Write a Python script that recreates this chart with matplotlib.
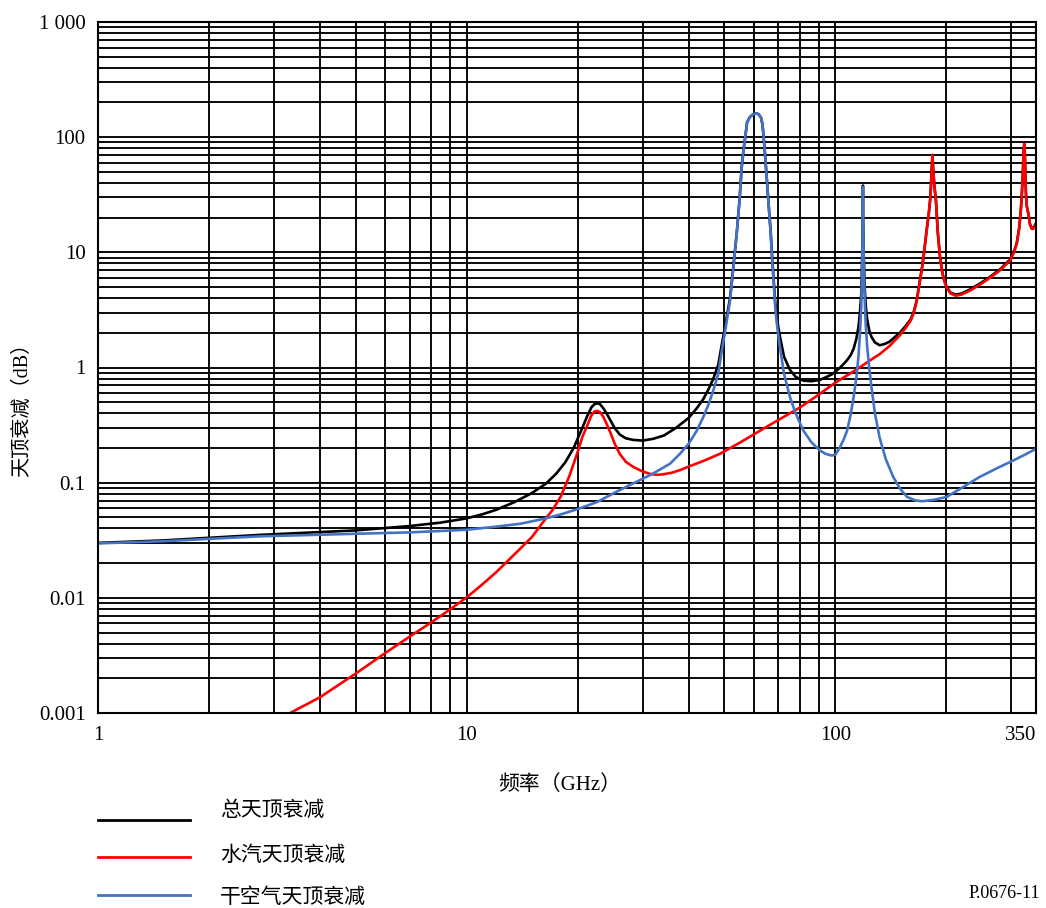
import matplotlib
matplotlib.use("Agg")
import matplotlib.pyplot as plt
from matplotlib.ticker import FixedLocator, NullLocator, FixedFormatter

# Zenith attenuation (dB) versus frequency (GHz)

# Dry-air zenith attenuation
dry_freq = [1, 1.5, 2, 2.75, 4, 5, 7, 10, 12, 14, 16.4, 18, 20, 22.6, 25.4, 28, 30,
            32, 35.6, 38, 40, 42, 43.8, 45.3, 46.65, 48.13, 49.0, 50.0, 50.9, 51.78,
            52.8, 54.0, 54.95, 55.7, 56.4, 57.1, 57.6, 58.67, 59.8, 60.9, 61.9,
            62.84, 63.4, 63.76, 64.3, 64.8, 65.3, 65.77, 66.77, 67.4, 67.95, 68.6,
            69.21, 70.0, 70.74, 72.55, 75.33, 78, 81.83, 86, 90.83, 94, 97.7, 100,
            103, 105.5, 107.6, 110, 112, 114, 115.5, 116.5, 117.5, 118.2, 118.5,
            118.75, 119.0, 119.4, 120.2, 121, 122, 123.5, 125.3, 128, 131.8, 137,
            143.5, 150, 156.6, 165, 172, 185, 200, 220, 246, 275, 304, 330, 350]
dry_db = [0.0297, 0.031, 0.0325, 0.0342, 0.0353, 0.036, 0.037, 0.039, 0.0415,
          0.044, 0.049, 0.053, 0.059, 0.068, 0.083, 0.097, 0.108, 0.12, 0.146,
          0.18, 0.218, 0.28, 0.37, 0.48, 0.632, 0.882, 1.3, 1.9, 2.7, 3.81, 7.0,
          14.5, 28.2, 54.8, 80, 106.8, 133, 150, 158, 161, 158, 148, 130, 106.8,
          78, 54.8, 40, 28.2, 14.5, 8.5, 5.69, 3.5, 2.56, 1.9, 1.5, 0.882, 0.552,
          0.40, 0.284, 0.225, 0.190, 0.178, 0.172, 0.175, 0.205, 0.24, 0.284,
          0.39, 0.55, 0.82, 1.25, 1.9, 3.3, 8, 16, 37, 16, 8, 3.5, 2.2, 1.5, 1.0,
          0.67, 0.40, 0.245, 0.16, 0.112, 0.088, 0.075, 0.070, 0.069, 0.071,
          0.075, 0.09, 0.112, 0.134, 0.156, 0.178, 0.197]

# Water-vapour zenith attenuation
wv_freq = [3.0, 3.32, 4, 5, 6, 7, 8, 9, 10, 11, 12, 13.5, 15, 16.4, 17.1, 18, 19,
           20, 20.6, 21.2, 21.8, 22.2, 22.6, 23.0, 23.5, 24.0, 24.5, 25.2, 26, 27,
           28.3, 30, 31.5, 32.7, 34, 36, 38, 40, 44, 48.6, 55, 62.6, 70, 80.2, 90,
           100, 108, 116.3, 124, 132, 140, 149.5, 155, 160, 163, 166, 169.6, 172,
           174, 176.8, 179, 181, 182.3, 183.3, 184.3, 185.5, 187.4, 189.5, 192.2,
           195, 197.5, 200, 205, 212, 220, 232, 248, 264, 280, 297.6, 305, 310.3,
           315, 318, 320.1, 322.5, 324, 325.3, 326.5, 327.7, 328.7, 330.5, 333.6,
           337, 340.7, 344, 347, 350]
wv_db = [0.00082, 0.001, 0.00137, 0.0022, 0.0033, 0.0046, 0.0061, 0.0079, 0.0101,
         0.013, 0.0166, 0.024, 0.0335, 0.049, 0.058, 0.076, 0.115, 0.185, 0.25,
         0.31, 0.385, 0.415, 0.42, 0.41, 0.37, 0.32, 0.275, 0.218, 0.178, 0.152,
         0.137, 0.125, 0.119, 0.117, 0.118, 0.122, 0.129, 0.138, 0.155, 0.178, 0.222,
         0.284, 0.35, 0.45, 0.58, 0.74, 0.86, 1.0, 1.15, 1.31, 1.53, 1.9, 2.2,
         2.55, 2.95, 3.7, 5.69, 7.5, 10, 15.5, 21, 30, 48, 70, 50, 38, 28, 15, 9.07,
         6.6, 5.6, 5.0, 4.4, 4.2, 4.3, 4.66, 5.3, 6.08, 7.0, 8.5, 10, 11.8, 16,
         22, 30, 50, 75, 87.5, 70, 45, 32, 25, 21.6, 17.5, 16, 16, 16.8, 17.7]

# Total zenith attenuation
total_freq = [1, 1.5, 2, 2.75, 4, 5, 7, 8.5, 10, 11, 12, 13.5, 15, 16.4, 17.5, 18.5,
              19.5, 20.5, 21.2, 21.8, 22.2, 22.6, 23.0, 23.5, 24.0, 24.5, 25.2, 26,
              27, 28.3, 30, 32, 34.3, 37, 40, 42, 43.8, 45.3, 46.65, 48.13, 49.0,
              50.0, 50.9, 51.78, 52.8, 54.0, 54.95, 55.7, 56.4, 57.1, 57.6, 58.67,
              59.8, 60.9, 61.9, 62.84, 63.4, 63.76, 64.3, 64.8, 65.3, 65.77, 66.77,
              67.4, 67.95, 68.6, 69.21, 70.0, 70.74, 72.55, 75.33, 78, 81.8, 86,
              90.8, 94, 97.7, 100, 103, 105.5, 107.6, 110, 112, 114, 115.5, 116.5,
              117.5, 118.2, 118.5, 118.75, 119.0, 119.4, 120.2, 121, 122, 123.5,
              125.3, 128, 131.9, 136, 140, 149.5, 155, 160, 163, 166, 169.6, 172,
              174, 176.8, 179, 181, 182.3, 183.3, 184.3, 185.5, 187.4, 189.5,
              192.2, 195, 197.5, 200, 205, 212, 220, 232, 248, 264, 280, 297.6,
              305, 310.3, 315, 318, 320.1, 322.5, 324, 325.3, 326.5, 327.7, 328.7,
              330.5, 333.6, 337, 340.7, 344, 347, 350]
total_db = [0.0300, 0.0315, 0.0332, 0.0352, 0.0372, 0.0385, 0.042, 0.045, 0.049,
            0.053, 0.058, 0.068, 0.081, 0.098, 0.12, 0.15, 0.2, 0.29, 0.375, 0.452,
            0.48, 0.49, 0.48, 0.44, 0.395, 0.35, 0.298, 0.262, 0.243, 0.235, 0.232,
            0.24, 0.257, 0.30, 0.365, 0.44, 0.53, 0.65, 0.80, 1.06, 1.48, 2.1, 2.9,
            4.0, 7.2, 14.7, 28.4, 55, 80, 107, 135, 150, 158, 161, 158, 148, 130,
            107, 78, 55, 40, 28.5, 14.8, 8.8, 6.0, 3.85, 2.9, 2.25, 1.85, 1.24,
            0.95, 0.83, 0.77, 0.76, 0.78, 0.82, 0.87, 0.92, 1.0, 1.08, 1.16, 1.28,
            1.45, 1.78, 2.25, 2.95, 4.3, 9, 17, 38, 17, 9, 4.6, 3.3, 2.6, 2.1, 1.84,
            1.65, 1.56, 1.6, 1.67, 2.0, 2.29, 2.62, 3.02, 3.77, 5.76, 7.57, 10.07,
            15.57, 21.07, 30.07, 48.07, 70.07, 50.07, 38.07, 28.07, 15.07, 9.14,
            6.67, 5.67, 5.08, 4.48, 4.29, 4.39, 4.77, 5.42, 6.2, 7.14, 8.66, 10.16,
            11.97, 16.17, 22.17, 30.17, 50.17, 75.17, 87.7, 70.2, 45.2, 32.2, 25.2,
            21.8, 17.7, 16.2, 16.2, 17.0, 17.9]

x_tick_values = [1, 10, 100, 350]
x_tick_labels = ["1", "10", "100", "350"]
y_tick_values = [0.001, 0.01, 0.1, 1, 10, 100, 1000]
y_tick_labels = ["0.001", "0.01", "0.1", "1", "10", "100", "1 000"]

series_labels = ["总天顶衰减", "水汽天顶衰减", "干空气天顶衰减"]
x_title = "频率（GHz）"
y_title = "天顶衰减（dB）"
figure_code = "P.0676-11"

SERIF = ["Liberation Serif", "DejaVu Serif"]
CJK = ["Noto Sans CJK SC", "DejaVu Sans"]
MIXED = ["Liberation Serif", "Noto Sans CJK SC", "DejaVu Sans"]

W, H = 1046, 908
fig = plt.figure(figsize=(W / 100, H / 100), dpi=100)
fig.patch.set_facecolor("white")
ax = fig.add_axes([98 / W, 1 - 713 / H, (1036 - 98) / W, (713 - 22) / H])
ax.set_xscale("log")
ax.set_yscale("log")
ax.set_xlim(1, 350)
ax.set_ylim(0.001, 1000)

# Grid: every unit of each decade on both axes
grid_kw = dict(color="black", linewidth=1.35, zorder=1)
xgrid = [m * 10 ** e for e in range(0, 3) for m in range(1, 10) if m * 10 ** e < 350]
for xv in xgrid:
    ax.axvline(xv, **grid_kw)
ygrid = [m * 10.0 ** e for e in range(-3, 3) for m in range(1, 10)] + [1000]
for yv in ygrid:
    ax.axhline(yv, **grid_kw)

for s in ax.spines.values():
    s.set_linewidth(1.5)
    s.set_color("black")
    s.set_zorder(5)

lw = 1.9
l_tot, = ax.plot(total_freq, total_db, color="black", lw=lw, zorder=3,
                 solid_joinstyle="round")
l_wv, = ax.plot(wv_freq, wv_db, color="#ff0000", lw=lw, zorder=4,
                solid_joinstyle="round")
l_dry, = ax.plot(dry_freq, dry_db, color="#4472c4", lw=lw, zorder=4.5,
                 solid_joinstyle="round")

ax.xaxis.set_major_locator(FixedLocator(x_tick_values))
ax.xaxis.set_major_formatter(FixedFormatter(x_tick_labels))
ax.xaxis.set_minor_locator(NullLocator())
ax.yaxis.set_major_locator(FixedLocator(y_tick_values))
ax.yaxis.set_major_formatter(FixedFormatter(y_tick_labels))
ax.yaxis.set_minor_locator(NullLocator())
ax.tick_params(axis="both", which="both", length=0)
ax.tick_params(axis="x", pad=9)
ax.tick_params(axis="y", pad=9)
for lab in ax.get_xticklabels() + ax.get_yticklabels():
    lab.set_fontfamily(SERIF)
    lab.set_fontsize(15)
xt = ax.get_xticklabels()
xt[-1].set_horizontalalignment("right")

fig.text(22 / W, 1 - 405 / H, y_title, rotation=90, ha="center", va="center",
         family=MIXED, fontsize=14.5)
fig.text(560 / W, 1 - 785 / H, x_title, ha="center", va="center",
         family=MIXED, fontsize=15)

# Legend drawn by hand below the axes
leg_rows = [(l_tot, 820, 810), (l_wv, 857, 855), (l_dry, 895, 897)]
for (line, ly, ty), text in zip(leg_rows, series_labels):
    fig.add_artist(plt.Line2D([98 / W, 190 / W], [1 - ly / H, 1 - ly / H],
                              color=line.get_color(), lw=2.0,
                              transform=fig.transFigure))
    fig.text(220 / W, 1 - ty / H, text, ha="left", va="center",
             family=CJK, fontsize=15)

fig.text(1040 / W, 1 - 893 / H, figure_code, ha="right", va="center",
         family=SERIF, fontsize=13)

fig.savefig("out.png", dpi=100, facecolor="white")
